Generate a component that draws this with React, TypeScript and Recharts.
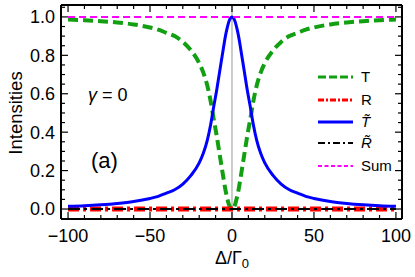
import React from "react";
import { LineChart, Line, XAxis, YAxis, ReferenceLine } from "recharts";

// detuning Δ/Γ0
const DELTA = [
    -100, -90, -80, -70, -60, -50, -45, -40, -35, -30, -25, -20, -17.5, -15, -13, -11, -9.5, -8, -6.5, -5, -4, -3, -2, -1,
    0,
    1, 2, 3, 4, 5, 6.5, 8, 9.5, 11, 13, 15, 17.5, 20, 25, 30, 35, 40, 45, 50, 60, 70, 80, 90, 100,
];
const T_VALUES = [
    0.986, 0.983, 0.978, 0.971, 0.961, 0.945, 0.934, 0.917, 0.9, 0.87, 0.825, 0.76, 0.71, 0.64, 0.56, 0.46, 0.39, 0.31, 0.23, 0.15, 0.1, 0.06, 0.027, 0.007,
    0.0,
    0.007, 0.027, 0.06, 0.1, 0.15, 0.23, 0.31, 0.39, 0.46, 0.56, 0.64, 0.71, 0.76, 0.825, 0.87, 0.9, 0.917, 0.934, 0.945, 0.961, 0.971, 0.978, 0.983, 0.986,
];
const R_VALUES = [
    0, 0, 0, 0, 0, 0, 0, 0, 0, 0, 0, 0, 0, 0, 0, 0, 0, 0, 0, 0, 0, 0, 0, 0,
    0,
    0, 0, 0, 0, 0, 0, 0, 0, 0, 0, 0, 0, 0, 0, 0, 0, 0, 0, 0, 0, 0, 0, 0, 0,
];
const T_TILDE_VALUES = [
    0.014, 0.017, 0.022, 0.029, 0.039, 0.055, 0.066, 0.083, 0.1, 0.13, 0.175, 0.24, 0.29, 0.36, 0.44, 0.54, 0.61, 0.69, 0.77, 0.85, 0.9, 0.94, 0.973, 0.993,
    1.0,
    0.993, 0.973, 0.94, 0.9, 0.85, 0.77, 0.69, 0.61, 0.54, 0.44, 0.36, 0.29, 0.24, 0.175, 0.13, 0.1, 0.083, 0.066, 0.055, 0.039, 0.029, 0.022, 0.017, 0.014,
];
const R_TILDE_VALUES = [
    0, 0, 0, 0, 0, 0, 0, 0, 0, 0, 0, 0, 0, 0, 0, 0, 0, 0, 0, 0, 0, 0, 0, 0,
    0,
    0, 0, 0, 0, 0, 0, 0, 0, 0, 0, 0, 0, 0, 0, 0, 0, 0, 0, 0, 0, 0, 0, 0, 0,
];
const SUM_VALUES = [
    1, 1, 1, 1, 1, 1, 1, 1, 1, 1, 1, 1, 1, 1, 1, 1, 1, 1, 1, 1, 1, 1, 1, 1,
    1,
    1, 1, 1, 1, 1, 1, 1, 1, 1, 1, 1, 1, 1, 1, 1, 1, 1, 1, 1, 1, 1, 1, 1, 1,
];

const X_TICKS = [-100, -90, -80, -70, -60, -50, -40, -30, -20, -10, 0, 10, 20, 30, 40, 50, 60, 70, 80, 90, 100];
const X_LABELS = [-100, -50, 0, 50, 100];
const Y_TICKS = [0, 0.05, 0.1, 0.15, 0.2, 0.25, 0.3, 0.35, 0.4, 0.45, 0.5, 0.55, 0.6, 0.65, 0.7, 0.75, 0.8, 0.85, 0.9, 0.95, 1.0, 1.05];
const Y_LABELS = [0, 0.2, 0.4, 0.6, 0.8, 1.0];

const FONT = "'Liberation Sans', Arial, sans-serif";

const data = DELTA.map((d, i) => ({
    delta: d,
    T: T_VALUES[i],
    R: R_VALUES[i],
    tT: T_TILDE_VALUES[i],
    tR: R_TILDE_VALUES[i],
    sum: SUM_VALUES[i],
}));

const SERIES = [
    { key: "T", label: "T", italic: false, tilde: false, color: "#12a012", width: 4, dash: "10 5", legendDash: "8 3" },
    { key: "R", label: "R", italic: false, tilde: false, color: "#ff0000", width: 5, dash: "11 4 3 4", legendDash: "6 2 2 2" },
    { key: "tT", label: "T", italic: true, tilde: true, color: "#0000ff", width: 3, dash: undefined, legendDash: undefined },
    { key: "tR", label: "R", italic: true, tilde: true, color: "#000000", width: 2.2, dash: "12 4 3 4", legendDash: "7 3 2 3" },
    { key: "sum", label: "Sum", italic: false, tilde: false, color: "#ff00ff", width: 2, dash: "7 4", legendDash: "4 2.5" },
];

const fmtX = (v: number) => (v < 0 ? "\u2212" + Math.abs(v) : String(v));

function BottomTick(props: any) {
    const { x, y, payload } = props;
    const major = X_LABELS.includes(payload.value);
    return (
        <g>
            <line x1={x} y1={y} x2={x} y2={y - (major ? 7 : 4)} stroke="#000" strokeWidth={1.2} />
            {major && (
                <text x={x} y={y + 23} textAnchor="middle" fontSize={18} fontFamily={FONT} fill="#000">
                    {fmtX(payload.value)}
                </text>
            )}
        </g>
    );
}

function TopTick(props: any) {
    const { x, y, payload } = props;
    const major = X_LABELS.includes(payload.value);
    return <line x1={x} y1={y} x2={x} y2={y + (major ? 7 : 4)} stroke="#000" strokeWidth={1.2} />;
}

const isMajorY = (v: number) => Y_LABELS.some((l) => Math.abs(l - v) < 1e-6);

function LeftTick(props: any) {
    const { x, y, payload } = props;
    const major = isMajorY(payload.value);
    return (
        <g>
            <line x1={x} y1={y} x2={x + (major ? 7 : 4)} y2={y} stroke="#000" strokeWidth={1.2} />
            {major && (
                <text x={x - 6} y={y} dy="0.36em" textAnchor="end" fontSize={18} fontFamily={FONT} fill="#000">
                    {payload.value.toFixed(1)}
                </text>
            )}
        </g>
    );
}

function RightTick(props: any) {
    const { x, y, payload } = props;
    const major = isMajorY(payload.value);
    return <line x1={x} y1={y} x2={x - (major ? 7 : 4)} y2={y} stroke="#000" strokeWidth={1.2} />;
}

export default function App() {
    const xDomain: [number, number] = [-104.3, 103.7];
    const yDomain: [number, number] = [-0.052, 1.062];
    return (
        <div style={{ position: "absolute", left: 0, top: 0, width: 415, height: 277, background: "#fff" }}>
            <LineChart width={415} height={277} data={data} margin={{ top: 0, right: 0, bottom: 0, left: 0 }}>
                <XAxis
                    dataKey="delta"
                    type="number"
                    domain={xDomain}
                    allowDataOverflow
                    ticks={X_TICKS}
                    interval={0}
                    tickSize={0}
                    tickMargin={0}
                    height={58}
                    tick={<BottomTick />}
                    axisLine={{ stroke: "#000", strokeWidth: 2 }}
                />
                <XAxis
                    xAxisId="top"
                    dataKey="delta"
                    orientation="top"
                    type="number"
                    domain={xDomain}
                    allowDataOverflow
                    ticks={X_TICKS}
                    interval={0}
                    tickSize={0}
                    tickMargin={0}
                    height={5}
                    tick={<TopTick />}
                    axisLine={{ stroke: "#000", strokeWidth: 2 }}
                />
                <YAxis
                    type="number"
                    domain={yDomain}
                    allowDataOverflow
                    ticks={Y_TICKS}
                    interval={0}
                    tickSize={0}
                    tickMargin={0}
                    width={61}
                    tick={<LeftTick />}
                    axisLine={{ stroke: "#000", strokeWidth: 2 }}
                    label={{
                        content: () => (
                            <text
                                x={22}
                                y={113}
                                transform="rotate(-90 22 113)"
                                textAnchor="middle"
                                fontSize={18.5}
                                fontFamily={FONT}
                                fill="#000"
                            >
                                Intensities
                            </text>
                        ),
                    }}
                />
                <YAxis
                    yAxisId="right"
                    orientation="right"
                    type="number"
                    domain={yDomain}
                    allowDataOverflow
                    ticks={Y_TICKS}
                    interval={0}
                    tickSize={0}
                    tickMargin={0}
                    width={13}
                    tick={<RightTick />}
                    axisLine={{ stroke: "#000", strokeWidth: 2 }}
                />
                <ReferenceLine x={0} stroke="#999999" strokeWidth={1} />
                {SERIES.map((s) => (
                    <Line
                        key={s.key}
                        dataKey={s.key}
                        type="monotone"
                        stroke={s.color}
                        strokeWidth={s.width}
                        strokeDasharray={s.dash}
                        dot={false}
                        activeDot={false}
                        isAnimationActive={false}
                    />
                ))}
            </LineChart>
            <svg
                width={415}
                height={277}
                style={{ position: "absolute", left: 0, top: 0, pointerEvents: "none" }}
            >
                <text x={232} y={264} textAnchor="middle" fontSize={18} fontFamily={FONT} fill="#000">
                    Δ/Γ<tspan fontSize={13} dy={4}>0</tspan>
                </text>
                <text x={88} y={101} fontSize={18} fontFamily={FONT} fill="#000">
                    <tspan fontStyle="italic">γ</tspan> = 0
                </text>
                <text x={91} y={168} fontSize={22} fontFamily={FONT} fill="#000">
                    (a)
                </text>
                {SERIES.map((s, i) => {
                    const cy = [77, 100, 122, 143, 166][i];
                    return (
                        <g key={s.key}>
                            <line
                                x1={318}
                                x2={353}
                                y1={cy}
                                y2={cy}
                                stroke={s.color}
                                strokeWidth={Math.min(s.width, 3)}
                                strokeDasharray={s.legendDash}
                            />
                            <text
                                x={361}
                                y={cy}
                                dy="0.36em"
                                fontSize={15}
                                fontFamily={FONT}
                                fontStyle={s.italic ? "italic" : "normal"}
                                fill="#000"
                            >
                                {s.tilde ? s.label + "\u0303" : s.label}
                            </text>
                        </g>
                    );
                })}
            </svg>
        </div>
    );
}
